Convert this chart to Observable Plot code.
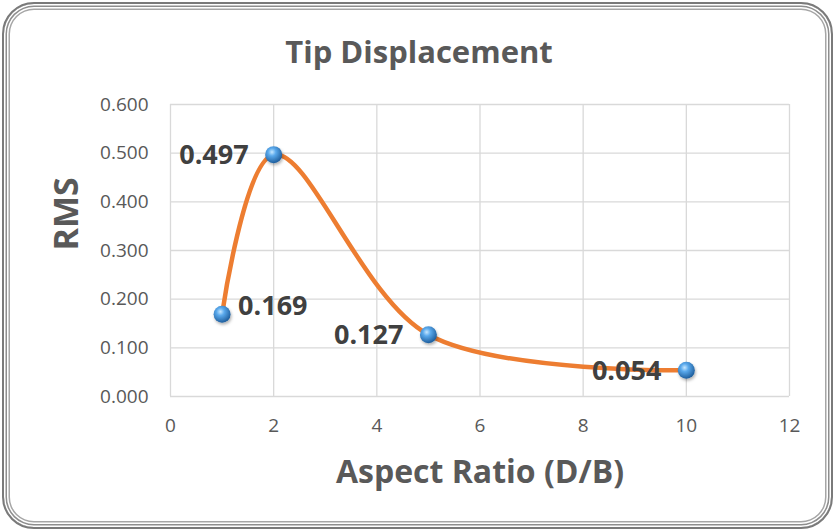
<!DOCTYPE html>
<html>
<head>
<meta charset="utf-8">
<script src="https://cdn.jsdelivr.net/npm/d3@7"></script>
<script src="https://cdn.jsdelivr.net/npm/@observablehq/plot@0.6"></script>
<style>
  html, body { margin: 0; padding: 0; background: #fff; }
  #frame {
    position: absolute; left: 2px; top: 2px; width: 831px; height: 527px;
    box-sizing: border-box; border: 2px solid #7a7a7a; border-radius: 32px;
    box-shadow: inset 0 0 0 1.5px #fff, inset 0 0 0 3px #8e8e8e, inset 0 0 0 4.5px #fff, inset 0 0 0 6px #a6a6a6;
    pointer-events: none;
  }
  #chart { position: absolute; left: 0; top: 0; }
  svg { font-family: "Open Sans", sans-serif; }
</style>
</head>
<body>
<div id="chart"></div>
<div id="frame"></div>
<script>
const aspectRatio = [1, 2, 5, 10];
const rms = [0.169, 0.497, 0.127, 0.054];
const valueLabels = ["0.169", "0.497", "0.127", "0.054"];
const xTicks = [0, 2, 4, 6, 8, 10, 12];
const yTicks = [0, 0.1, 0.2, 0.3, 0.4, 0.5, 0.6];
const title = "Tip Displacement";
const xTitle = "Aspect Ratio (D/B)";
const yTitle = "RMS";

const data = aspectRatio.map((x, i) => ({x, y: rms[i], label: valueLabels[i]}));

const defs = () => {
  const g = d3.create("svg:defs");
  const grad = g.append("radialGradient").attr("id", "ball").attr("cx", "40%").attr("cy", "35%").attr("r", "65%");
  grad.append("stop").attr("offset", "0%").attr("stop-color", "#c6e7ff");
  grad.append("stop").attr("offset", "35%").attr("stop-color", "#5aa9ec");
  grad.append("stop").attr("offset", "100%").attr("stop-color", "#1f5f9e");
  const f = g.append("filter").attr("id", "shadow").attr("x", "-30%").attr("y", "-30%").attr("width", "170%").attr("height", "170%");
  f.append("feDropShadow").attr("dx", 1).attr("dy", 2).attr("stdDeviation", 1.5).attr("flood-color", "#000").attr("flood-opacity", 0.3);
  return g.node();
};

const chart = Plot.plot({
  width: 835,
  height: 531,
  marginLeft: 170,
  marginRight: 46,
  marginTop: 104,
  marginBottom: 135,
  x: {domain: [0, 12], ticks: xTicks, tickSize: 0, tickPadding: 22, label: null},
  y: {domain: [0, 0.6], ticks: yTicks, tickSize: 0, tickPadding: 22, label: null, tickFormat: d3.format(".3f")},
  style: {fontSize: "19px", color: "#595959", fontFamily: "Open Sans, sans-serif"},
  marks: [
    defs,
    Plot.gridX(xTicks, {stroke: "#d9d9d9", strokeOpacity: 1, strokeWidth: 1.3}),
    Plot.gridY(yTicks, {stroke: "#d9d9d9", strokeOpacity: 1, strokeWidth: 1.3}),
    Plot.line(data, {x: "x", y: "y", curve: "catmull-rom", stroke: "#ED7D31", strokeWidth: 4.5}),
    Plot.dot(data, {x: "x", y: "y", r: 8.5, fill: "url(#ball)", stroke: "none"}),
    Plot.text(data.filter((d, i) => i === 0), {x: "x", y: "y", text: "label", textAnchor: "start", dx: 16, dy: -8, fontSize: 27, fontWeight: "bold", fill: "#404040"}),
    Plot.text(data.filter((d, i) => i > 0), {x: "x", y: "y", text: "label", textAnchor: "end", dx: -25, dy: 1, fontSize: 27, fontWeight: "bold", fill: "#404040"}),
    Plot.text([title], {frameAnchor: "top", lineAnchor: "bottom", dx: -61, dy: -42, fontSize: 31, fontWeight: "bold", fill: "#595959"}),
    Plot.text([xTitle], {frameAnchor: "bottom", lineAnchor: "bottom", dy: 86, fontSize: 32, fontWeight: "bold", fill: "#595959"}),
    Plot.text([yTitle], {frameAnchor: "left", lineAnchor: "bottom", dx: -93, rotate: -90, fontSize: 34, fontWeight: "bold", fill: "#595959"})
  ]
});
document.getElementById("chart").appendChild(chart);
d3.select(chart).selectAll("circle").attr("filter", "url(#shadow)");
</script>
</body>
</html>
